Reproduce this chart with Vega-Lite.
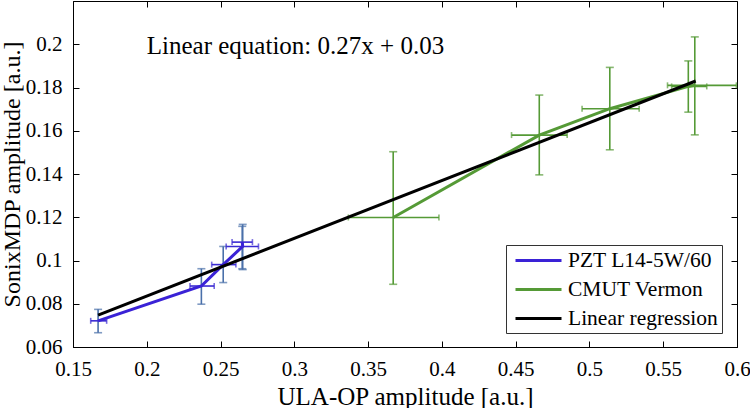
{
  "$schema": "https://vega.github.io/schema/vega-lite/v6.json",
  "width": 664,
  "height": 346,
  "autosize": {"type": "none"},
  "padding": {"left": 73, "top": 1, "right": 13, "bottom": 61},
  "background": "white",
  "config": {
    "font": "Liberation Serif",
    "view": {"stroke": "black", "strokeWidth": 1},
    "axis": {
      "grid": false,
      "labelFont": "Liberation Serif",
      "labelFontSize": 21,
      "labelColor": "black",
      "titleFont": "Liberation Serif",
      "titleFontWeight": "normal",
      "titleColor": "black",
      "domainColor": "black",
      "tickColor": "black",
      "tickSize": -6,
      "labelPadding": 17
    },
    "legend": {
      "labelFont": "Liberation Serif",
      "labelFontSize": 21.5,
      "labelColor": "black"
    }
  },
  "datasets": {
    "pts": [
      {"series": "PZT L14-5W/60", "ord": 1, "x": 0.167, "y": 0.0721, "xlo": 0.162, "xhi": 0.1728, "ylo": 0.0666, "yhi": 0.0774},
      {"series": "PZT L14-5W/60", "ord": 2, "x": 0.237, "y": 0.0882, "xlo": 0.2293, "xhi": 0.2457, "ylo": 0.0798, "yhi": 0.0962},
      {"series": "PZT L14-5W/60", "ord": 3, "x": 0.2518, "y": 0.0981, "xlo": 0.244, "xhi": 0.2604, "ylo": 0.0898, "yhi": 0.1065},
      {"series": "PZT L14-5W/60", "ord": 4, "x": 0.265, "y": 0.1065, "xlo": 0.2538, "xhi": 0.2757, "ylo": 0.0958, "yhi": 0.1167},
      {"series": "PZT L14-5W/60", "ord": 5, "x": 0.2647, "y": 0.1085, "xlo": 0.2578, "xhi": 0.2716, "ylo": 0.0962, "yhi": 0.1158},
      {"series": "CMUT Vermon", "ord": 1, "x": 0.367, "y": 0.1199, "xlo": 0.3366, "xhi": 0.398, "ylo": 0.089, "yhi": 0.1503},
      {"series": "CMUT Vermon", "ord": 2, "x": 0.466, "y": 0.158, "xlo": 0.4472, "xhi": 0.4849, "ylo": 0.1396, "yhi": 0.1765},
      {"series": "CMUT Vermon", "ord": 3, "x": 0.5138, "y": 0.1702, "xlo": 0.495, "xhi": 0.5337, "ylo": 0.1512, "yhi": 0.1893},
      {"series": "CMUT Vermon", "ord": 4, "x": 0.567, "y": 0.1805, "xlo": 0.5557, "xhi": 0.5795, "ylo": 0.1686, "yhi": 0.1923},
      {"series": "CMUT Vermon", "ord": 5, "x": 0.5714, "y": 0.181, "xlo": 0.5529, "xhi": 0.5996, "ylo": 0.1581, "yhi": 0.2034}
    ],
    "reg": [
      {"series": "Linear regression", "ord": 1, "x": 0.167, "y": 0.0747},
      {"series": "Linear regression", "ord": 2, "x": 0.572, "y": 0.183}
    ],
    "note": [
      {"label": "Linear equation: 0.27x + 0.03", "x": 0.2, "y": 0.1953}
    ]
  },
  "resolve": {"axis": {"x": "independent", "y": "independent"}},
  "layer": [
    {
      "data": {"name": "pts"},
      "mark": {"type": "rule", "strokeWidth": 1.6},
      "encoding": {
        "x": {"field": "x", "type": "quantitative", "scale": {"domain": [0.15, 0.6], "nice": false, "zero": false}, "axis": null},
        "y": {"field": "ylo", "type": "quantitative", "scale": {"domain": [0.06, 0.22], "nice": false, "zero": false}, "axis": null},
        "y2": {"field": "yhi"},
        "color": {"condition": {"test": "datum.series === 'CMUT Vermon'", "value": "#559a36"}, "value": "#4a70aa"}
      }
    },
    {
      "data": {"name": "pts"},
      "mark": {"type": "rule", "strokeWidth": 1.6},
      "encoding": {
        "x": {"field": "xlo", "type": "quantitative", "axis": null},
        "x2": {"field": "xhi"},
        "y": {"field": "y", "type": "quantitative", "axis": null},
        "color": {"condition": {"test": "datum.series === 'CMUT Vermon'", "value": "#559a36"}, "value": "#3a2ad2"}
      }
    },
    {
      "data": {"name": "pts"},
      "transform": [{"fold": ["ylo", "yhi"], "as": ["end", "yv"]}],
      "mark": {"type": "tick", "orient": "horizontal", "size": 8, "thickness": 1.6},
      "encoding": {
        "x": {"field": "x", "type": "quantitative", "axis": null},
        "y": {"field": "yv", "type": "quantitative", "axis": null},
        "color": {"condition": {"test": "datum.series === 'CMUT Vermon'", "value": "#559a36"}, "value": "#4a70aa"}
      }
    },
    {
      "data": {"name": "pts"},
      "transform": [{"fold": ["xlo", "xhi"], "as": ["end", "xv"]}],
      "mark": {"type": "tick", "orient": "vertical", "size": 6, "thickness": 1.6},
      "encoding": {
        "x": {"field": "xv", "type": "quantitative", "axis": null},
        "y": {"field": "y", "type": "quantitative", "axis": null},
        "color": {"condition": {"test": "datum.series === 'CMUT Vermon'", "value": "#559a36"}, "value": "#3a2ad2"}
      }
    },
    {
      "data": {"name": "pts"},
      "mark": {"type": "line", "strokeWidth": 3},
      "encoding": {
        "x": {"field": "x", "type": "quantitative", "axis": {"title": "ULA-OP amplitude [a.u.]", "titleFontSize": 25, "values": [0.15, 0.2, 0.25, 0.3, 0.35, 0.4, 0.45, 0.5, 0.55, 0.6], "format": ".2~f", "titlePadding": 5, "labelFlush": false}},
        "y": {"field": "y", "type": "quantitative", "axis": {"title": "SonixMDP amplitude [a.u.]", "titleFontSize": 24, "values": [0.06, 0.08, 0.1, 0.12, 0.14, 0.16, 0.18, 0.2], "format": ".2~f", "titlePadding": 1, "labelFlush": false}},
        "order": {"field": "ord", "type": "quantitative"},
        "color": {
          "field": "series",
          "type": "nominal",
          "scale": {"domain": ["PZT L14-5W/60", "CMUT Vermon", "Linear regression"], "range": ["#3a22d6", "#559a36", "#000000"]},
          "legend": {
            "title": null,
            "orient": "none",
            "legendX": 433,
            "legendY": 244,
            "padding": 4,
            "strokeColor": "#333333",
            "fillColor": "white",
            "symbolType": "M-0.6,0H4",
            "symbolSize": 400,
            "symbolStrokeWidth": 3,
            "labelOffset": 35,
            "rowPadding": 7,
            "labelFontSize": 21.5,
            "labelFont": "Liberation Serif"
          }
        }
      }
    },
    {
      "data": {"name": "reg"},
      "mark": {"type": "line", "strokeWidth": 3, "color": "black"},
      "encoding": {
        "x": {"field": "x", "type": "quantitative", "axis": null},
        "y": {"field": "y", "type": "quantitative", "axis": null},
        "order": {"field": "ord", "type": "quantitative"},
        "color": {"field": "series", "type": "nominal", "legend": null}
      }
    },
    {
      "data": {"name": "note"},
      "mark": {"type": "text", "align": "left", "baseline": "alphabetic", "font": "Liberation Serif", "fontSize": 25, "color": "black"},
      "encoding": {
        "x": {"field": "x", "type": "quantitative", "axis": {"orient": "top", "labels": false, "title": null, "domain": false, "values": [0.15, 0.2, 0.25, 0.3, 0.35, 0.4, 0.45, 0.5, 0.55, 0.6]}},
        "y": {"field": "y", "type": "quantitative", "axis": {"orient": "right", "labels": false, "title": null, "domain": false, "values": [0.06, 0.08, 0.1, 0.12, 0.14, 0.16, 0.18, 0.2]}},
        "text": {"field": "label"}
      }
    }
  ]
}
